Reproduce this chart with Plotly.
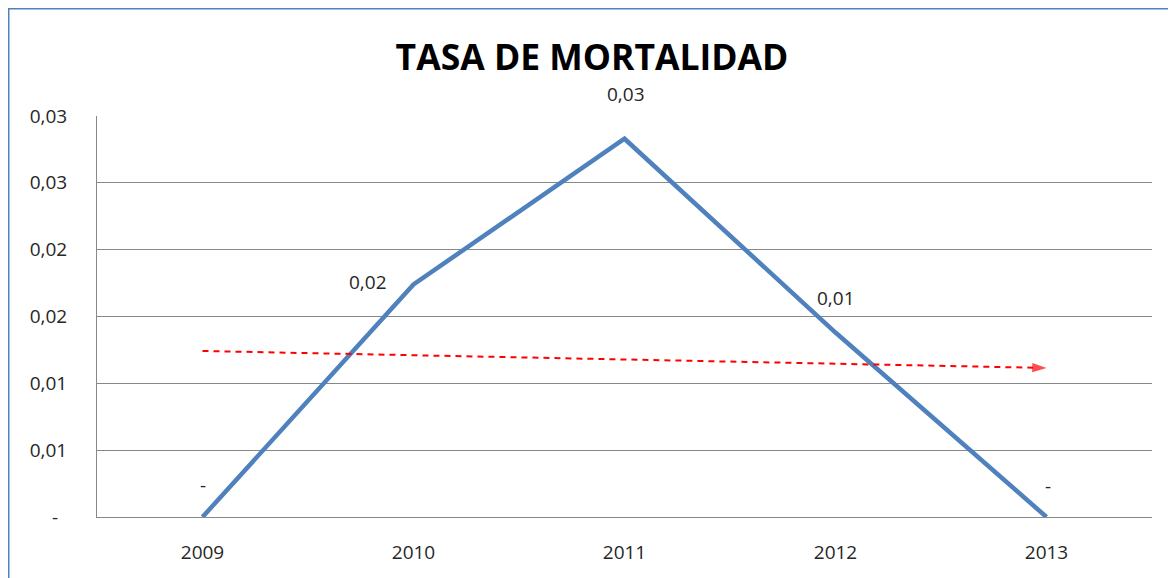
import plotly.graph_objects as go
from decimal import Decimal, ROUND_HALF_UP

# ---- data ----
years = ["2009", "2010", "2011", "2012", "2013"]
tasa = [0.0, 0.0174, 0.0283, 0.0138, 0.0]
trend_years = ["2009", "2013"]
trend_values = [0.01242, 0.01115]
y_ticks = [0.0, 0.005, 0.01, 0.015, 0.02, 0.025, 0.03]
title_text = "TASA DE MORTALIDAD"

# label offsets (style, px)
label_dx = [0, -46, 1, 0, 1]
label_dy = [32, 2, 45, 35, 31]


def fmt(v):
    if abs(v) < 1e-12:
        return "-"
    d = Decimal(repr(v)).quantize(Decimal("0.01"), rounding=ROUND_HALF_UP)
    return str(d).replace(".", ",")


FONT = "Open Sans"
BLUE = "#4F81BD"
GRID = "#888888"

W, H = 1168, 570
L, R, T, B = 89, 24, 108, 61
PW = W - L - R
PH = H - T - B

fig = go.Figure()

fig.add_trace(go.Scatter(
    x=years, y=tasa, mode="lines",
    line=dict(color=BLUE, width=4.5),
    showlegend=False, hoverinfo="x+y",
))

fig.add_trace(go.Scatter(
    x=trend_years, y=trend_values, mode="lines+markers",
    line=dict(color="#FF0000", width=2, dash="6px,5px"),
    marker=dict(symbol="arrow", angleref="previous", size=[0, 15], color="#FF0000",
                line=dict(width=0)),
    showlegend=False, hoverinfo="skip",
))

for i, v in enumerate(tasa):
    fig.add_annotation(
        x=i, y=v, xref="x", yref="y", text=fmt(v), showarrow=False,
        xshift=label_dx[i], yshift=label_dy[i],
        font=dict(family=FONT, size=19, color="#262626"),
    )

# tick labels: zero shown as an accounting-style dash placed separately
tick_text = []
for v in y_ticks:
    t = fmt(v)
    if t == "-":
        fig.add_annotation(
            x=(47 - L) / PW, y=v, xref="paper", yref="y", text=t,
            showarrow=False, xanchor="center",
            font=dict(family=FONT, size=19, color="#262626"),
        )
        t = ""
    tick_text.append(t)

fig.update_layout(
    width=W, height=H,
    margin=dict(l=L, r=R, t=T, b=B, pad=0),
    paper_bgcolor="white", plot_bgcolor="white",
    title=dict(
        text="<b>" + title_text + "</b>",
        x=(584 - L) / PW, xref="paper", xanchor="center",
        y=1 - 50 / H, yref="container", yanchor="middle",
        font=dict(family=FONT, size=35.5, color="#000000"),
    ),
    xaxis=dict(
        type="category", range=[-0.5, 4.5],
        showgrid=False, showline=True, linecolor=GRID, linewidth=1,
        ticks="", ticklabelstandoff=18,
        tickfont=dict(family=FONT, size=19, color="#262626"),
        fixedrange=True,
    ),
    yaxis=dict(
        range=[0, 0.03], tickvals=y_ticks, ticktext=tick_text,
        showgrid=True, gridcolor=GRID, gridwidth=1,
        showline=True, linecolor=GRID, linewidth=1,
        zeroline=False, ticks="", ticklabelstandoff=25,
        tickfont=dict(family=FONT, size=19, color="#262626"),
        fixedrange=True,
    ),
    shapes=[dict(
        type="rect", xref="paper", yref="paper",
        x0=(0 - L) / PW, x1=1.2, y0=-0.5, y1=(PH + T) / PH,
        line=dict(color=BLUE, width=3), fillcolor="rgba(0,0,0,0)", layer="below",
    )],
)

fig.write_html("out.html")
